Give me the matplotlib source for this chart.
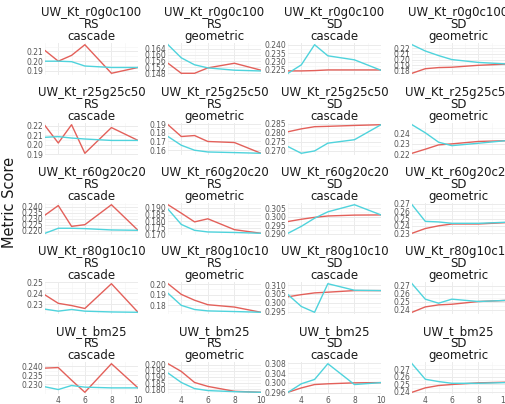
import matplotlib
matplotlib.use("Agg")
import matplotlib.pyplot as plt
from matplotlib.ticker import AutoMinorLocator, FixedLocator, FixedFormatter

# facet labels
row_names = ["UW_Kt_r0g0c100", "UW_Kt_r25g25c50", "UW_Kt_r60g20c20", "UW_Kt_r80g10c10", "UW_t_bm25"]
col_stats = ["RS", "RS", "SD", "SD"]
col_methods = ["cascade", "geometric", "cascade", "geometric"]

x_vals = [3, 4, 5, 6, 8, 10]

# red series, one list per panel (row-major)
red_vals = [
    [0.211, 0.200, 0.206, 0.217, 0.1875, 0.1935],
    [0.1545, 0.148, 0.148, 0.1515, 0.1545, 0.150],
    [0.2244, 0.2244, 0.2246, 0.225, 0.225, 0.225],
    [0.176, 0.184, 0.186, 0.1866, 0.190, 0.192],
    [0.220, 0.2018, 0.221, 0.191, 0.218, 0.2045],
    [0.1892, 0.1757, 0.1768, 0.170, 0.1688, 0.1565],
    [0.2806, 0.2822, 0.2834, 0.2836, 0.2841, 0.2845],
    [0.2207, 0.2246, 0.2287, 0.2297, 0.232, 0.2327],
    [0.233, 0.241, 0.2236, 0.225, 0.2417, 0.2203],
    [0.1923, 0.186, 0.1795, 0.1818, 0.1737, 0.171],
    [0.2972, 0.2985, 0.2996, 0.3004, 0.3009, 0.301],
    [0.230, 0.2365, 0.2402, 0.2427, 0.2427, 0.2445],
    [0.2385, 0.231, 0.229, 0.2264, 0.2485, 0.223],
    [0.2003, 0.1903, 0.1848, 0.1806, 0.1784, 0.1735],
    [0.3034, 0.3046, 0.3056, 0.306, 0.3069, 0.3069],
    [0.237, 0.2437, 0.2462, 0.247, 0.2504, 0.2517],
    [0.2389, 0.2392, 0.2323, 0.2257, 0.2413, 0.2281],
    [0.2008, 0.1945, 0.1855, 0.1823, 0.1783, 0.1775],
    [0.2961, 0.2979, 0.2993, 0.2996, 0.300, 0.3001],
    [0.2391, 0.245, 0.2481, 0.2495, 0.2517, 0.2525],
]

# cyan series
cyan_vals = [
    [0.200, 0.200, 0.1995, 0.195, 0.1935, 0.1935],
    [0.1665, 0.158, 0.1535, 0.1515, 0.150, 0.1495],
    [0.223, 0.228, 0.240, 0.2334, 0.231, 0.2248],
    [0.226, 0.215, 0.207, 0.200, 0.195, 0.1925],
    [0.2078, 0.2085, 0.207, 0.206, 0.2045, 0.2045],
    [0.1757, 0.1657, 0.160, 0.158, 0.1573, 0.1565],
    [0.2724, 0.2687, 0.270, 0.2743, 0.2762, 0.2845],
    [0.248, 0.2403, 0.2313, 0.228, 0.2303, 0.2327],
    [0.2178, 0.222, 0.222, 0.2217, 0.2206, 0.2203],
    [0.189, 0.1776, 0.1732, 0.172, 0.1716, 0.171],
    [0.2904, 0.2944, 0.2991, 0.3028, 0.3069, 0.301],
    [0.269, 0.2463, 0.2455, 0.2436, 0.2436, 0.245],
    [0.2258, 0.224, 0.2255, 0.224, 0.2233, 0.223],
    [0.1913, 0.180, 0.1761, 0.1748, 0.1742, 0.1735],
    [0.3046, 0.2979, 0.2946, 0.3108, 0.3071, 0.3069],
    [0.2725, 0.2533, 0.2483, 0.2533, 0.2504, 0.2517],
    [0.2287, 0.2272, 0.2294, 0.2285, 0.2281, 0.2281],
    [0.1932, 0.1855, 0.1805, 0.1789, 0.178, 0.1775],
    [0.2961, 0.2996, 0.3014, 0.3079, 0.2993, 0.3001],
    [0.2772, 0.2565, 0.2534, 0.2511, 0.2511, 0.252],
]

# y tick labels per panel
y_ticks = [
    ["0.19", "0.20", "0.21", "0.22"],
    ["0.148", "0.152", "0.156", "0.160", "0.164"],
    ["0.225", "0.230", "0.235", "0.240"],
    ["0.18", "0.19", "0.20", "0.21", "0.22", "0.23"],
    ["0.19", "0.20", "0.21", "0.22"],
    ["0.16", "0.17", "0.18", "0.19"],
    ["0.270", "0.275", "0.280", "0.285"],
    ["0.22", "0.23", "0.24"],
    ["0.220", "0.225", "0.230", "0.235", "0.240"],
    ["0.170", "0.175", "0.180", "0.185", "0.190"],
    ["0.290", "0.295", "0.300", "0.305"],
    ["0.23", "0.24", "0.25", "0.26", "0.27"],
    ["0.23", "0.24", "0.25"],
    ["0.18", "0.19", "0.20"],
    ["0.295", "0.300", "0.305", "0.310"],
    ["0.24", "0.25", "0.26", "0.27"],
    ["0.230", "0.235", "0.240"],
    ["0.180", "0.185", "0.190", "0.195", "0.200"],
    ["0.296", "0.300", "0.304", "0.308"],
    ["0.24", "0.25", "0.26", "0.27"],
]
x_ticks = [4, 6, 8, 10]

RED = "#E3605A"
CYAN = "#4FD3DC"
W, H = 506, 404

fig = plt.figure(figsize=(W / 100, H / 100), dpi=100)

# panel geometry in pixels
col_left = [45, 168, 288, 412]
col_w = 93
row_top = [43, 123, 203, 282, 362]
row_h = 32

for r in range(5):
    for c in range(4):
        i = r * 4 + c
        ax = fig.add_axes([col_left[c] / W, 1 - (row_top[r] + row_h) / H, col_w / W, row_h / H])
        ax.plot(x_vals, red_vals[i], color=RED, lw=1.0, zorder=3)
        ax.plot(x_vals, cyan_vals[i], color=CYAN, lw=1.0, zorder=3)

        ax.set_xlim(3, 10)
        ax.margins(y=0.06)
        ticks = [float(t) for t in y_ticks[i]]
        ax.yaxis.set_major_locator(FixedLocator(ticks))
        ax.yaxis.set_major_formatter(FixedFormatter(y_ticks[i]))
        ax.yaxis.set_minor_locator(AutoMinorLocator(2))
        ax.set_xticks(x_ticks)
        ax.xaxis.set_minor_locator(AutoMinorLocator(2))

        ax.grid(True, which="major", color="#EBEBEB", lw=0.7, zorder=0)
        ax.grid(True, which="minor", color="#F3F3F3", lw=0.4, zorder=0)
        for s in ax.spines.values():
            s.set_visible(False)
        ax.tick_params(which="both", length=0, labelsize=5.5, labelcolor="#555555", pad=1.5)
        if r < 4:
            ax.tick_params(axis="x", labelbottom=False)

        ax.set_title(f"{row_names[r]}\n{col_stats[c]}\n{col_methods[c]}",
                     fontsize=8.5, linespacing=0.92, pad=2, color="#1a1a1a")

fig.text(10 / W, 0.5, "Metric Score", rotation=90, fontsize=10.5,
         ha="center", va="center", color="#1a1a1a")

fig.savefig("out.png", dpi=100, facecolor="white")
